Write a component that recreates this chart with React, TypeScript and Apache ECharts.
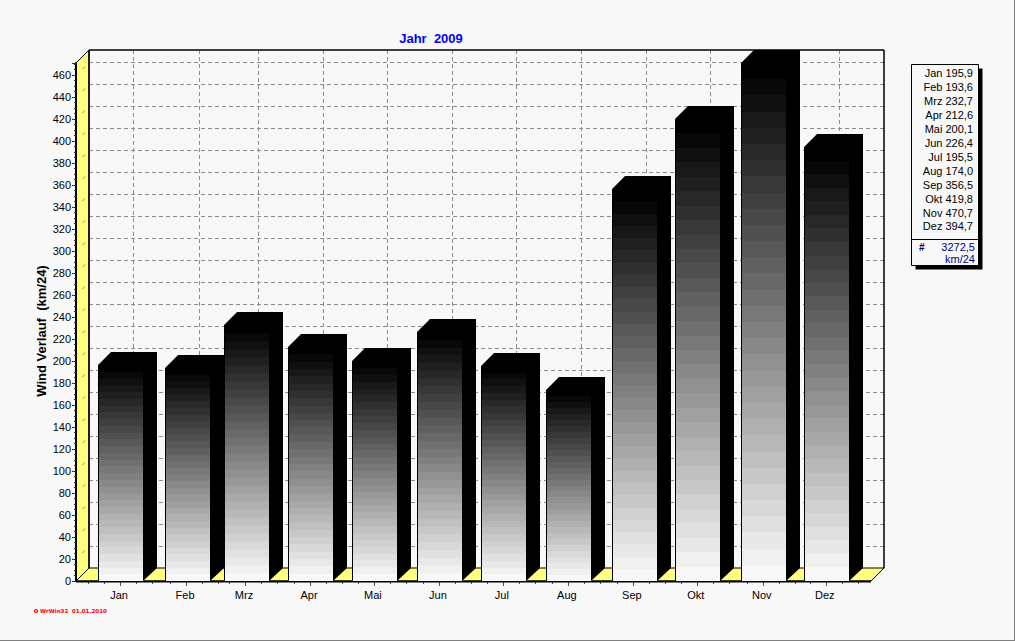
import React, { useEffect, useRef } from "react";
import * as echarts from "echarts";

const months = ["Jan", "Feb", "Mrz", "Apr", "Mai", "Jun", "Jul", "Aug", "Sep", "Okt", "Nov", "Dez"];
const windKm = [195.9, 193.6, 232.7, 212.6, 200.1, 226.4, 195.5, 174.0, 356.5, 419.8, 470.7, 394.7];
const totalLabel = "3272,5";
const unitLabel = "km/24";
const titleText = "Jahr  2009";
const yAxisTitle = "Wind Verlauf  (km/24)";
const footerText = "WrWin32  01.01.2010";

// Layout (pixel rounding of the original renderer)
const GRID = { left: 88, top: 63, width: 770, height: 518 };
const Y_MAX = 470.7;
const Y_STEP = 20;
const DEPTH = 13;
const BAR_W = 45;
const BANDS = 32;
const barShift = [0.5, 2.8, -1.9, -2.1, -2.3, -1.5, -1.7, -0.9, 0.9, -0.3, 1.5, 0.3];
const tickShift = [0, 1.8, -3.4, -2.6, -2.8, -2, -2.2, -1.4, -0.6, -0.8, 1, -0.2];
const FONT = "'Liberation Sans', Arial, sans-serif";
const BG = "#f8f8f8";
const YELLOW = "#ffff80";
const DASH = "#8c8c8c";

const fmt = (v: number) => v.toFixed(1).replace(".", ",");

function renderFrame(_: any, api: any) {
  const base = api.coord([0, 0])[1];
  const top = api.coord([0, Y_MAX])[1];
  const x0 = GRID.left - 12;
  const x1 = GRID.left + GRID.width + DEPTH;
  const backL = x0 + DEPTH;
  const backR = x1 + DEPTH;
  const backB = base - DEPTH;
  const backT = top - DEPTH;
  const kids: any[] = [];
  const line = (a: number, b: number, c: number, d: number, stroke: string, lineWidth = 1, dash?: number[]) =>
    kids.push({
      type: "line",
      shape: { x1: a, y1: b, x2: c, y2: d },
      style: { stroke, lineWidth, lineDash: dash, fill: null },
    });
  kids.push({
    type: "polygon",
    shape: { points: [[x0, top], [backL, backT], [backL, backB], [x0, base]] },
    style: { fill: YELLOW, stroke: "#000", lineWidth: 1 },
  });
  kids.push({
    type: "polygon",
    shape: { points: [[x0, base], [backL, backB], [backR, backB], [x1, base]] },
    style: { fill: YELLOW, stroke: "#000", lineWidth: 1 },
  });
  for (let v = Y_STEP; v <= Y_MAX; v += Y_STEP) {
    const y = Math.round(api.coord([0, v])[1]);
    line(backL, y - DEPTH + 0.5, backR, y - DEPTH + 0.5, DASH, 1, [4, 3]);
    line(x0 + 6.5, y - 6, x0 + 9, y - 8.5, DASH, 1);
  }
  months.forEach((_m, i) => {
    const cx = Math.round(api.coord([i, 0])[0] + tickShift[i]);
    line(cx + DEPTH + 0.5, backT, cx + DEPTH + 0.5, backB, DASH, 1, [4, 3]);
    line(cx + 0.5, base, cx + 0.5, base + 5, "#555", 1);
    [-32, -16, 16, 32].forEach((d) => {
      if (d === -32 && i > 0) return;
      line(cx + d + 0.5, base, cx + d + 0.5, base + 3, "#555", 1);
    });
  });
  line(backL, backT, backR, backT, "#000", 1.5);
  line(backR, backT, backR, backB, "#000", 1.5);
  line(backL, backT, backL, backB, "#000", 1.5);
  line(x0, base + 0.5, x1, base + 0.5, "#000", 2);
  return { type: "group", children: kids };
}

function renderBar(_: any, api: any) {
  const i = api.value(0);
  const v = api.value(1);
  const [cx, yTop0] = api.coord([i, v]);
  const yTop = Math.round(yTop0);
  const base = Math.round(api.coord([i, 0])[1]);
  const l = Math.round(cx + barShift[i] - BAR_W / 2);
  const r = l + BAR_W;
  const sideR = r + DEPTH + 1;
  const kids: any[] = [];
  const h = base - yTop;
  for (let b = 0; b < BANDS; b++) {
    const y0 = Math.round(yTop + (h * b) / BANDS);
    const y1 = Math.round(yTop + (h * (b + 1)) / BANDS);
    const g = b * 8;
    kids.push({
      type: "rect",
      shape: { x: l, y: y0, width: BAR_W, height: y1 - y0 },
      style: { fill: `rgb(${g},${g},${g})` },
    });
  }
  kids.push({
    type: "line",
    shape: { x1: l + 0.5, y1: yTop, x2: l + 0.5, y2: base },
    style: { stroke: "#000", lineWidth: 1 },
  });
  kids.push({
    type: "polygon",
    shape: { points: [[l, yTop], [l + DEPTH, yTop - DEPTH], [sideR, yTop - DEPTH], [sideR, base - DEPTH], [r, base], [r, yTop]] },
    style: { fill: "#000" },
  });
  return { type: "group", children: kids };
}

export default function App() {
  const ref = useRef<HTMLDivElement>(null);
  useEffect(() => {
    document.body.style.margin = "0";
    const chart = echarts.init(ref.current!, null, { renderer: "svg" });
    const legendLeft = 911.5;
    const legendTop = 64.5;
    const legendW = 67;
    const legendH = 201;
    const sepY = 239.5;
    const legendRight = 973;
    const graphic: any[] = [
      { type: "rect", shape: { x: legendLeft + 4, y: legendTop + 4, width: legendW, height: legendH }, style: { fill: "#000" } },
      { type: "rect", shape: { x: legendLeft, y: legendTop, width: legendW, height: legendH }, style: { fill: BG, stroke: "#000", lineWidth: 1 } },
      { type: "line", shape: { x1: legendLeft, y1: sepY, x2: legendLeft + legendW, y2: sepY }, style: { stroke: "#000", lineWidth: 1 } },
      ...months.map((m, i) => ({
        type: "text",
        x: legendRight,
        y: 73 + i * 13.95,
        style: { text: `${m} ${fmt(windKm[i])}`, align: "right", verticalAlign: "middle", font: `11px ${FONT}`, fill: "#000" },
      })),
      { type: "text", x: 919, y: 247, style: { text: "#", align: "left", verticalAlign: "middle", font: `bold 10px ${FONT}`, fill: "#000080" } },
      { type: "text", x: 975, y: 247, style: { text: totalLabel, align: "right", verticalAlign: "middle", font: `11px ${FONT}`, fill: "#000080" } },
      { type: "text", x: 975, y: 259, style: { text: unitLabel, align: "right", verticalAlign: "middle", font: `11px ${FONT}`, fill: "#000080" } },
      { type: "circle", shape: { cx: 36, cy: 611, r: 1.5 }, style: { fill: "none", stroke: "#ff0000", lineWidth: 1.2 } },
      { type: "text", x: 40, y: 611, style: { text: footerText, align: "left", verticalAlign: "middle", font: `bold 5.5px 'DejaVu Sans', sans-serif`, fill: "#ff0000" } },
      { type: "rect", shape: { x: 0, y: 640, width: 1015, height: 1 }, style: { fill: "#808080" } },
      { type: "rect", shape: { x: 1014, y: 0, width: 1, height: 641 }, style: { fill: "#808080" } },
    ];
    chart.setOption({
      animation: false,
      backgroundColor: BG,
      title: {
        text: titleText,
        left: 426,
        top: 27,
        textAlign: "center",
        textStyle: { color: "#0000ff", fontFamily: FONT, fontSize: 13, fontWeight: "bold" },
      },
      grid: { ...GRID, containLabel: false },
      xAxis: {
        type: "category",
        data: months.map((m, i) => {
          const s = tickShift[i] - 1;
          return {
            value: m,
            textStyle: { padding: [0, s < 0 ? -2 * s : 0, 0, s > 0 ? 2 * s : 0] },
          };
        }),
        axisLine: { show: false },
        axisTick: { show: false },
        axisLabel: { interval: 0, margin: 8, color: "#000", fontFamily: FONT, fontSize: 11 },
        splitLine: { show: false },
      },
      yAxis: {
        type: "value",
        min: 0,
        max: Y_MAX,
        interval: Y_STEP,
        offset: 12,
        z: 5,
        name: yAxisTitle,
        nameLocation: "middle",
        nameGap: 28,
        nameMoveOverlap: false,
        nameTextStyle: { color: "#000", fontFamily: FONT, fontSize: 13, fontWeight: "bold", padding: [0, 18, 0, 0] },
        axisLine: { show: true, lineStyle: { color: "#000", width: 2 } },
        axisTick: { show: true, length: 4, lineStyle: { color: "#333", width: 1 } },
        minorTick: { show: true, splitNumber: 4, length: 2, lineStyle: { color: "#333", width: 1 } },
        splitLine: { show: false },
        axisLabel: { margin: 5, showMaxLabel: false, color: "#000", fontFamily: FONT, fontSize: 11 },
      },
      graphic,
      series: [
        { type: "custom", z: 1, silent: true, renderItem: renderFrame, data: [[0, 0]], encode: { x: 0, y: 1 } },
        { type: "custom", z: 2, silent: true, renderItem: renderBar, data: windKm.map((v, i) => [i, v]), encode: { x: 0, y: 1 } },
      ],
    });
    return () => chart.dispose();
  }, []);
  return <div ref={ref} style={{ position: "absolute", left: 0, top: 0, width: 1015, height: 641 }} />;
}
